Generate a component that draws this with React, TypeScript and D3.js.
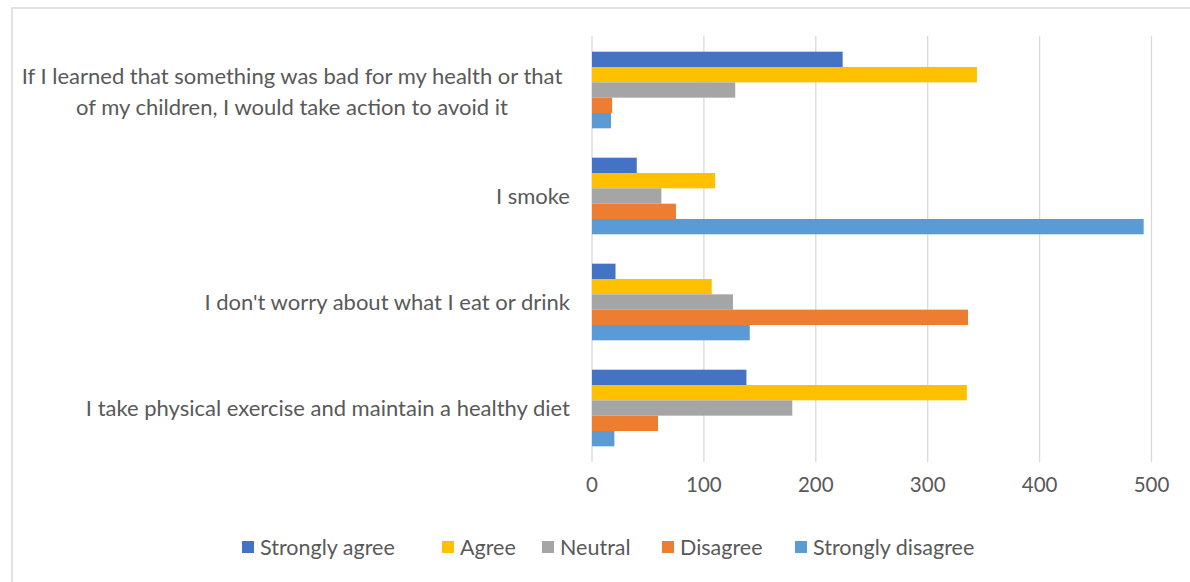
import React from "react";
import * as d3 from "d3";

const categories = [
  ["If I learned that something was bad for my health or that", "of my children, I would take action to avoid it"],
  ["I smoke"],
  ["I don't worry about what I eat or drink"],
  ["I take physical exercise and maintain a healthy diet"],
];
const seriesNames = ["Strongly agree", "Agree", "Neutral", "Disagree", "Strongly disagree"];
const seriesColors = ["#4472C4", "#FFC000", "#A5A5A5", "#ED7D31", "#5B9BD5"];
const stronglyAgree = [224, 40, 21, 138];
const agree = [344, 110, 107, 335];
const neutral = [128, 62, 126, 179];
const disagree = [18, 75, 336, 59];
const stronglyDisagree = [17, 493, 141, 20];
const xTicks = [0, 100, 200, 300, 400, 500];

const seriesValues = [stronglyAgree, agree, neutral, disagree, stronglyDisagree];

const W = 1190;
const H = 582;
const FONT = "Lato, 'Open Sans', sans-serif";
const TEXT = "#595959";

export default function App() {
  const x = d3.scaleLinear().domain([0, 500]).range([592, 1151.5]);
  const y0 = d3
    .scaleBand<number>()
    .domain(categories.map((_, i) => i))
    .range([37, 461]);
  const y1 = d3
    .scaleBand<number>()
    .domain(seriesNames.map((_, i) => i))
    .range([y0.bandwidth() * 0.1385, y0.bandwidth() * 0.8615]);

  const legendX = [242, 442, 542, 662, 795];

  return (
    <svg
      width={W}
      height={H}
      style={{ position: "absolute", left: 0, top: 0, background: "#fff" }}
      fontFamily={FONT}
    >
      <rect x={0} y={0} width={W} height={H} fill="#fff" />
      {/* frame */}
      <path d={`M12,${H} L12,8 L${W},8`} fill="none" stroke="#d9d9d9" strokeWidth={1.5} />
      {/* gridlines */}
      {xTicks.map((t) => (
        <line key={t} x1={x(t)} x2={x(t)} y1={36} y2={462} stroke="#d9d9d9" strokeWidth={1.3} />
      ))}
      {/* bars */}
      {categories.map((_, ci) => (
        <g key={ci} transform={`translate(0,${y0(ci)})`}>
          {seriesValues.map((vals, si) => (
            <rect
              key={si}
              x={x(0)}
              y={y1(si)}
              width={x(vals[ci]) - x(0)}
              height={y1.bandwidth()}
              fill={seriesColors[si]}
            />
          ))}
        </g>
      ))}
      {/* tick labels */}
      {xTicks.map((t) => (
        <text key={t} x={x(t)} y={492} textAnchor="middle" fontSize={20.5} fill={TEXT}>
          {t}
        </text>
      ))}
      {/* category labels */}
      {categories.map((lines, ci) => {
        const cy = (y0(ci) as number) + y0.bandwidth() / 2;
        if (lines.length === 1) {
          return (
            <text key={ci} x={570} y={cy + 8} textAnchor="end" fontSize={22} fill={TEXT}>
              {lines[0]}
            </text>
          );
        }
        return (
          <text key={ci} x={292} textAnchor="middle" fontSize={22} fill={TEXT}>
            {lines.map((l, li) => (
              <tspan key={li} x={292} y={cy + 9 + (li - (lines.length - 1) / 2) * 31}>
                {l}
              </tspan>
            ))}
          </text>
        );
      })}
      {/* legend */}
      {seriesNames.map((s, i) => (
        <g key={s}>
          <rect x={legendX[i]} y={541} width={12} height={12} fill={seriesColors[i]} />
          <text x={legendX[i] + 18} y={555} fontSize={21.5} fill={TEXT}>
            {s}
          </text>
        </g>
      ))}
    </svg>
  );
}
